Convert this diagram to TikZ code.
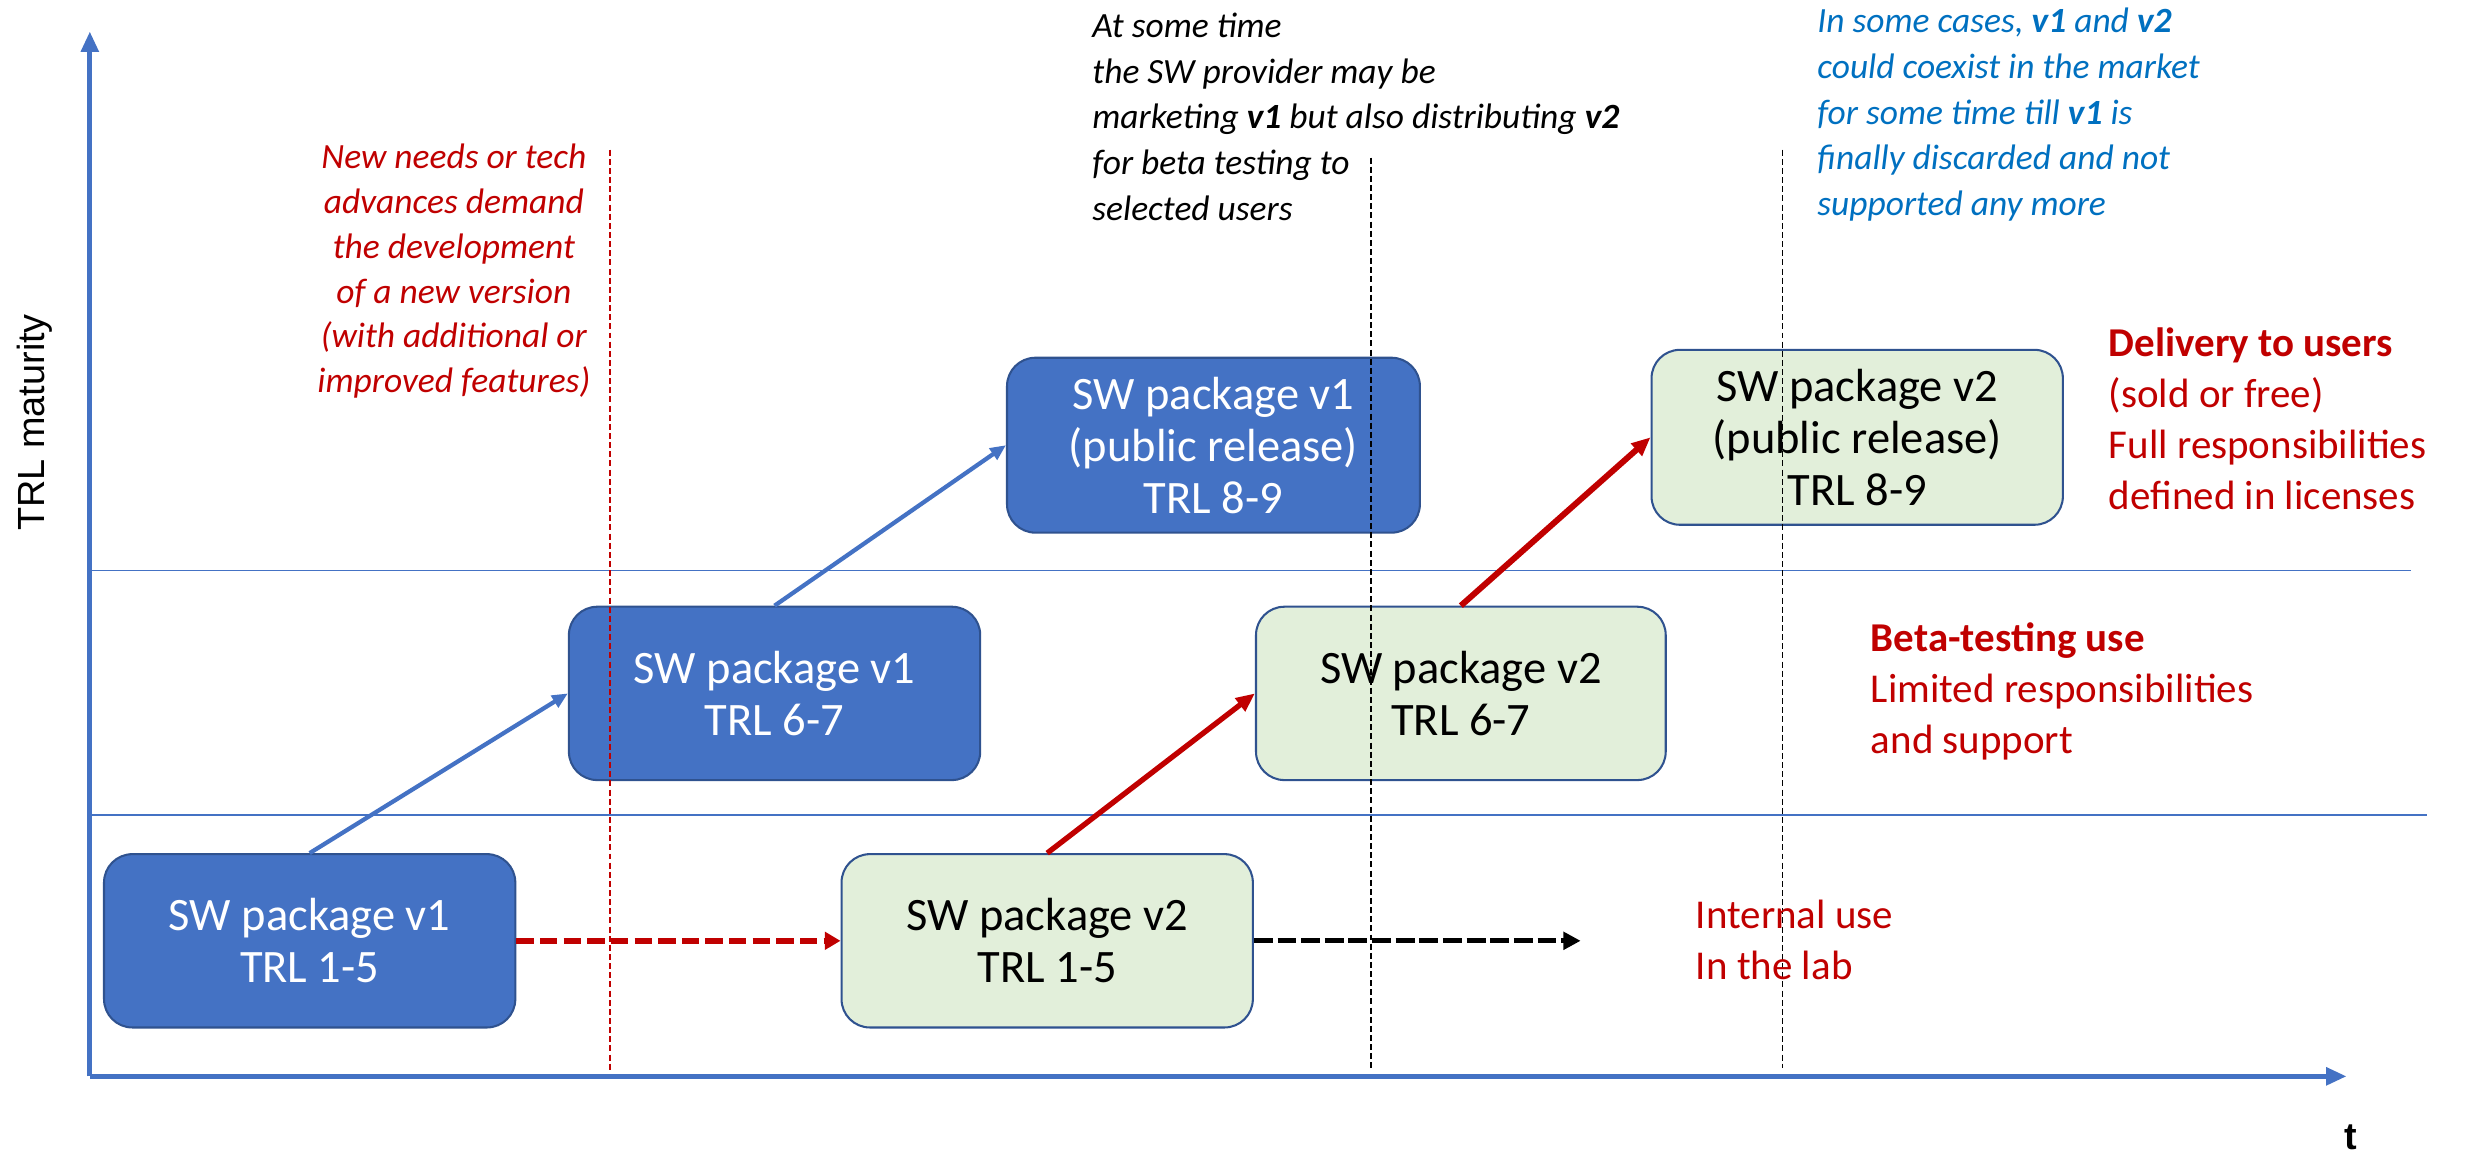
\documentclass[tikz,border=0pt]{standalone}
\usepackage{fontspec}
\setmainfont{Carlito}
\newfontfamily\arialfont{Liberation Sans}
\usetikzlibrary{arrows.meta}
\definecolor{boxblue}{HTML}{4472C4}
\definecolor{boxedge}{HTML}{2F528F}
\definecolor{boxgreen}{HTML}{E2EFDA}
\definecolor{darkred}{HTML}{C00000}
\definecolor{noteblue}{HTML}{0070C0}
\tikzset{
  pkgbox/.style={draw=boxedge, line width=1.3pt, rounded corners=18pt,
    minimum width=261pt, minimum height=110pt, inner sep=0pt, align=center,
    font=\fontsize{29.5}{33}\selectfont},
  vonebox/.style={pkgbox, fill=boxblue, text=white},
  vtwobox/.style={pkgbox, fill=boxgreen, text=black},
  note/.style={inner sep=0pt, font=\itshape\fontsize{22.5}{29}\selectfont},
  label/.style={inner sep=0pt, align=left, text=darkred, font=\fontsize{26}{32.3}\selectfont},
  axisline/.style={draw=boxblue, line width=3pt, -{Triangle[length=13pt,width=11pt]}},
  bluelink/.style={draw=boxblue, line width=2.7pt, -{Triangle[length=10pt,width=8.5pt]}},
  redlink/.style={draw=darkred, line width=3.4pt, -{Triangle[length=12pt,width=10pt]}},
  guide/.style={line width=0.9pt, dash pattern=on 3.8pt off 2pt},
  level/.style={draw=boxblue, line width=1pt}
}
\begin{document}
\begin{tikzpicture}[x=1pt,y=-1pt]
\useasboundingbox (0,0) rectangle (1568,735);

% axes
\coordinate (origin) at (57,683);
\coordinate (ytop) at (57,20);
\coordinate (xend) at (1489,683);
\draw[axisline] (origin) -- (ytop);
\draw[axisline] (origin) -- (xend);
\node[inner sep=0pt, rotate=90, font=\arialfont\fontsize{24}{28}\selectfont] (ylab) at (22,268) {TRL maturity};
\node[inner sep=0pt, font=\arialfont\bfseries\fontsize{24}{28}\selectfont] (xlab) at (1492,722) {t};

% maturity levels
\coordinate (lvlA) at (57,362);
\coordinate (lvlAe) at (1530,362);
\coordinate (lvlB) at (57,517);
\coordinate (lvlBe) at (1540,517);
\draw[level] (lvlA) -- (lvlAe);
\draw[level] (lvlB) -- (lvlBe);

% packages
\node[vonebox] (p1a) at (196.5,597) {SW package v1\\TRL 1-5};
\node[vonebox] (p1b) at (491.5,440) {SW package v1\\TRL 6-7};
\node[vonebox, minimum width=262pt, minimum height=111pt] (p1c) at (770,282.5) {SW package v1\\(public release)\\TRL 8-9};
\node[vtwobox] (p2a) at (664.5,597) {SW package v2\\TRL 1-5};
\node[vtwobox, minimum width=260pt] (p2b) at (927,440) {SW package v2\\TRL 6-7};
\node[vtwobox, minimum height=111pt] (p2c) at (1178.5,277.5) {SW package v2\\(public release)\\TRL 8-9};

% transitions
\draw[bluelink] (p1a.north) -- (p1b.west);
\draw[bluelink] (p1b.north) -- (p1c.west);
\draw[redlink] (p2a.north) -- (p2b.west);
\draw[redlink, line width=3.8pt] (p2b.north) -- (p2c.west);
\draw[draw=darkred, line width=3.5pt, dash pattern=on 11pt off 4pt, -{Triangle[length=10pt,width=11pt]}] (p1a.east) -- (p2a.west);
\coordinate (labend) at (1003,597);
\draw[draw=black, line width=3.3pt, dash pattern=on 12pt off 3pt, -{Triangle[length=11pt,width=11pt]}] (p2a.east) -- (labend);

% time markers
\coordinate (m1t) at (387,95);  \coordinate (m1b) at (387,680);
\coordinate (m2t) at (870,100); \coordinate (m2b) at (870,678);
\coordinate (m3t) at (1131,95); \coordinate (m3b) at (1131,678);
\draw[guide, draw=darkred] (m1t) -- (m1b);
\draw[guide, draw=black] (m2t) -- (m2b);
\draw[guide, draw=black] (m3t) -- (m3b);

% notes
\node[note, text=darkred, align=center, anchor=north, font=\itshape\fontsize{22.5}{28.5}\selectfont] (needs) at (288,91)
  {New needs or tech\\advances demand\\the development\\of a new version\\(with additional or\\improved features)};
\node[note, text=black, align=left, anchor=north west] (market) at (693,8)
  {At some time\\the SW provider may be\\marketing \textbf{v1} but also distributing \textbf{v2}\\for beta testing to\\selected users};
\node[note, text=noteblue, align=left, anchor=north west] (coexist) at (1153,5)
  {In some cases, \textbf{v1} and \textbf{v2}\\could coexist in the market\\for some time till \textbf{v1} is\\finally discarded and not\\supported any more};

% level descriptions
\node[label, anchor=north west] (deliv) at (1338,208)
  {\textbf{Delivery to users}\\(sold or free)\\Full responsibilities\\defined in licenses};
\node[label, anchor=north west] (beta) at (1187,395)
  {\textbf{Beta-testing use}\\Limited responsibilities\\and support};
\node[label, anchor=north west] (internal) at (1076,571)
  {Internal use\\In the lab};
\end{tikzpicture}
\end{document}
